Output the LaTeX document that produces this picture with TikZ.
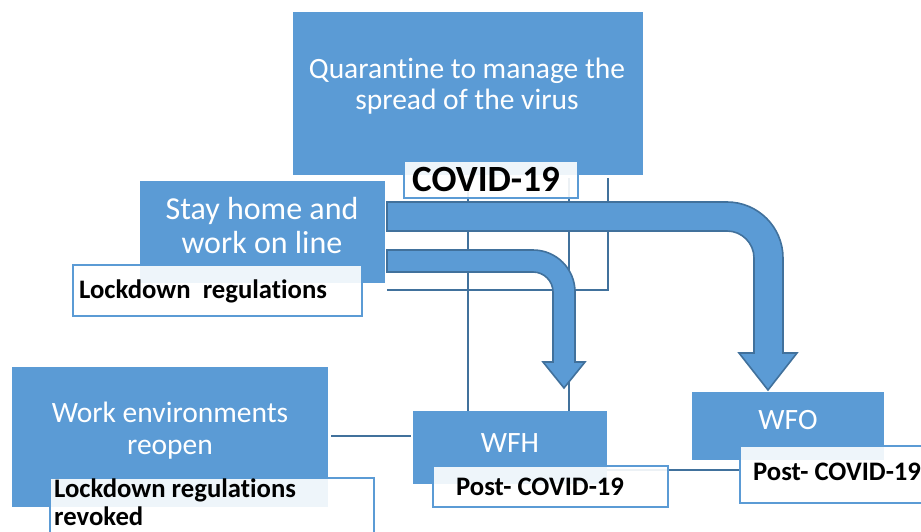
\documentclass[tikz,border=0pt]{standalone}
\usepackage{fontspec}
\setmainfont{Carlito}[RawFeature=-liga]
\definecolor{boxblue}{HTML}{5B9BD5}
\definecolor{edgeblue}{HTML}{41719C}
\begin{document}
\begin{tikzpicture}[x=1pt,y=-1pt,
  blk/.style={fill=boxblue, draw=none, inner sep=0pt, minimum width=#1},
  tag/.style={fill=white, fill opacity=0.9, draw=boxblue, line width=1.6pt, inner sep=0pt},
  wtxt/.style={text=white, align=center, inner sep=0pt, font=\fontsize{29.5}{32}\selectfont},
  btxt/.style={text=black, align=left, inner sep=0pt, font=\bfseries\fontsize{26.7}{28}\selectfont},
  link/.style={draw=edgeblue, line width=2pt},
  bentarrow/.style={fill=boxblue, draw=edgeblue, line width=1.6pt, line join=miter}
]
\useasboundingbox (0,0) rectangle (921,532);
\clip (0,0) rectangle (921,532);

% main boxes
\node[blk=350pt, minimum height=163pt] (quar) at (467.5,93.5) {};
\node[wtxt, font=\fontsize{29.5}{31}\selectfont] (quartxt) at (467,86) {Quarantine to manage the\\spread of the virus};

% connectors running from the COVID-19 tag
\coordinate (v1) at (468,178);
\coordinate (v2) at (569,178);
\coordinate (v3) at (608,178);
\coordinate (h3) at (387,290);
\node[blk=194pt, minimum height=73pt] (wfh) at (510,447.5) {};
\draw[link] (v1) -- (v1 |- wfh.north);
\draw[link] (v2) -- (v2 |- wfh.north);
\draw[link] (v3) -- (v3 |- h3) -- (h3);

\node[tag, minimum width=174pt, minimum height=37pt] (covid) at (491,179.5) {};
\node[font=\bfseries\fontsize{37}{40}\selectfont, inner sep=0pt] (covidtxt) at (486,179) {COVID-19};

% stay home box and its tag
\node[blk=245pt, minimum height=102pt] (stay) at (262.5,232) {};
\node[wtxt, font=\fontsize{32}{34}\selectfont] (staytxt) at (262,225) {Stay home and\\work on line};
\node[tag, minimum width=289pt, minimum height=51pt] (lock) at (217.5,290.5) {};
\node[btxt, anchor=west] (locktxt) at (79,291) {Lockdown\ \ regulations};

% bent arrows
\path[bentarrow] (387,202) -- (727,202)
  .. controls (757.9,202) and (783,227.1) .. (783,258)
  -- (783,353) -- (797,353) -- (768,390) -- (739,353) -- (754,353)
  -- (754,258) .. controls (754,243.1) and (741.9,231) .. (727,231)
  -- (387,231) -- cycle;
\path[bentarrow] (387,250) -- (533,250)
  .. controls (556.2,250) and (575,268.8) .. (575,292)
  -- (575,362) -- (585,362) -- (564,388) -- (543,362) -- (553,362)
  -- (553,292) .. controls (553,281) and (544,272) .. (533,272)
  -- (387,272) -- cycle;

% lower boxes
\node[blk=192pt, minimum height=68pt] (wfo) at (788,426) {};
\node[wtxt] (wfotxt) at (788,420) {WFO};
\node[wtxt] (wfhtxt) at (510,443) {WFH};
\node[blk=316pt, minimum height=140pt] (work) at (170,437) {};
\node[wtxt] (worktxt) at (170,431) {Work environments\\reopen};

\draw[link, shorten <=3pt, shorten >=2pt] (work.east |- 0,436) -- (wfh.west |- 0,436);

\node[tag, minimum width=220pt, minimum height=57pt] (postb) at (850,474.5) {};
\draw[link] (wfh.east |- 0,470) -- (postb.west |- 0,470);
\node[tag, minimum width=235pt, minimum height=41pt] (posta) at (550.5,486.5) {};
\node[btxt, anchor=west] (postatxt) at (456,487) {Post- COVID-19};
\node[btxt, anchor=west] (postbtxt) at (753,472) {Post- COVID-19};

\node[tag, minimum width=324pt, minimum height=82pt] (revk) at (212,519) {};
\node[btxt, anchor=north west] (revktxt) at (54,479) {Lockdown regulations\\revoked};
\end{tikzpicture}
\end{document}
